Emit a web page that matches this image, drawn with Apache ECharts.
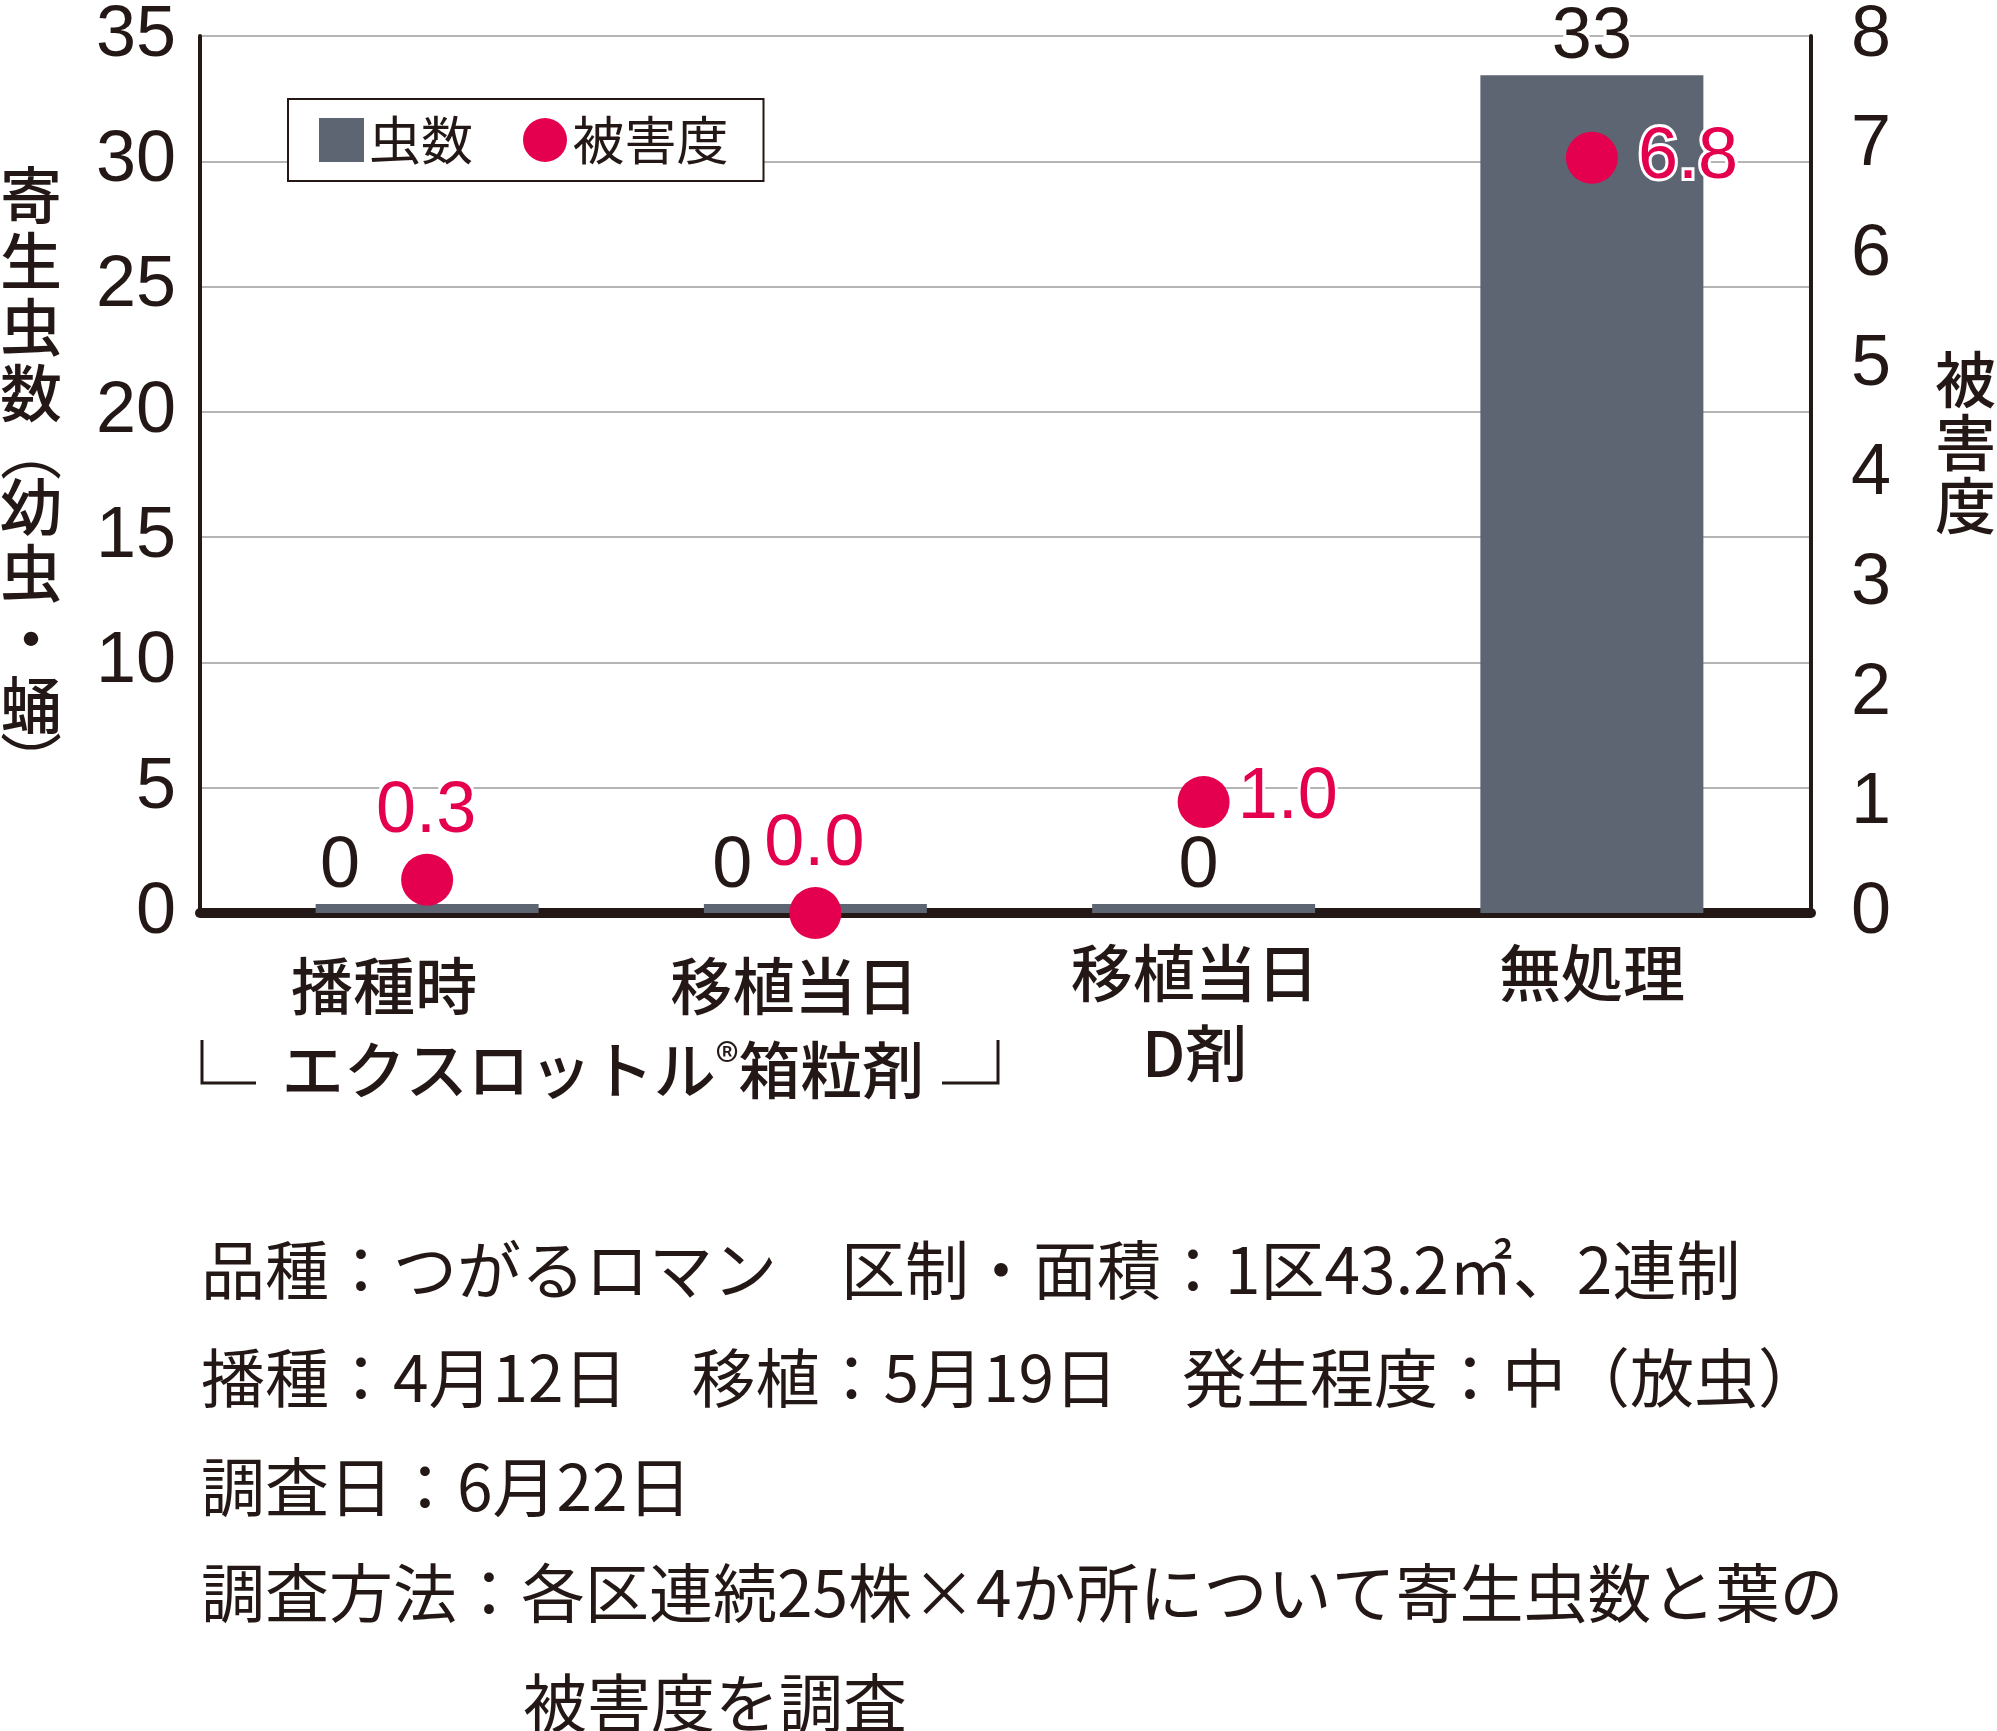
<!DOCTYPE html>
<html>
<head>
<meta charset="utf-8">
<script src="https://cdn.jsdelivr.net/npm/echarts@6/dist/echarts.min.js"></script>
<style>
html,body{margin:0;padding:0;background:#fff;}
#chart{width:1997px;height:1731px;}
</style>
</head>
<body>
<div id="chart"></div>
<script>
// ---- data ----
const categories = ['播種時', '移植当日', '移植当日\nD剤', '無処理'];
const insectCounts = [0, 0, 0, 33];        // 虫数 (left axis)
const damageDegree = [0.3, 0.0, 1.0, 6.8];  // 被害度 (right axis)
const leftTicks = { min: 0, max: 35, interval: 5 };
const rightTicks = { min: 0, max: 8, interval: 1 };
const legendNames = ['虫数', '被害度'];
const leftAxisName = ['寄', '生', '虫', '数', '︵', '幼', '虫', '・', '蛹', '︶'];
const rightAxisName = ['被', '害', '度'];
const bracketText = 'エクスロットル';
const bracketText2 = '箱粒剤';
const notes = [
  '品種：つがるロマン　区制・面積：1区43.2㎡、2連制',
  '播種：4月12日　移植：5月19日　発生程度：中（放虫）',
  '調査日：6月22日',
  '調査方法：各区連続25株×4か所について寄生虫数と葉の',
  '被害度を調査'
];

// ---- style ----
const INK = '#231815';
const BAR = '#5d6472';
const RED = '#e4004f';
const GRID = '#b5b5b5';
const NUM_FONT = "'Liberation Sans', Arial, sans-serif";
const JP_FONT = "'Noto Sans CJK JP', sans-serif";

const barLabelStyle = [
  { offset: [-87, 0] },
  { offset: [-83, 0] },
  { offset: [-5, 0] },
  { offset: [0, 0] }
];
const dotLabelStyle = [
  { position: 'top', distance: 6, offset: [-1, 0] },
  { position: 'top', distance: 6, offset: [-1, 0] },
  { position: 'right', distance: 8, offset: [0, -4] },
  { position: 'right', distance: 20, offset: [0, 0] }
];
const catLabelStyle = [
  { padding: [13, 86, 0, 0] },
  { padding: [13, 42, 0, 0] },
  { padding: [0, 18, 0, 0] },
  { padding: [0, 0, 0, 0] }
];

const chart = echarts.init(document.getElementById('chart'), null, { renderer: 'canvas' });

const noteY = [1270, 1378, 1487, 1593, 1703];
const noteX = [201, 201, 201, 201, 523];

const graphics = [];
// left axis name (vertical)
let richLeft = leftAxisName.map(c => (c === '︵' || c === '︶') ? '{p|' + c + '}' : '{c|' + c + '}').join('\n');
graphics.push({
  type: 'text', left: 0, top: 164,
  style: {
    text: richLeft,
    fill: INK,
    font: "62px 'Noto Sans CJK JP'",
    rich: {
      c: { fontSize: 62, lineHeight: 66, fontFamily: 'Noto Sans CJK JP', fontWeight: 500, fill: INK, align: 'center', width: 62 },
      p: { fontSize: 62, lineHeight: 48, fontFamily: 'Noto Sans CJK JP', fill: INK, align: 'center', width: 62 }
    }
  }
});
graphics.push({
  type: 'text', left: 1935, top: 348,
  style: {
    text: rightAxisName.join('\n'),
    fill: INK,
    font: "500 61px 'Noto Sans CJK JP'",
    lineHeight: 63
  }
});
// bracket under first two categories
graphics.push({
  type: 'polyline', shape: { points: [[202, 1040], [202, 1083], [256, 1083]] },
  style: { stroke: INK, lineWidth: 3, fill: null }
});
graphics.push({
  type: 'polyline', shape: { points: [[942, 1083], [998, 1083], [998, 1040]] },
  style: { stroke: INK, lineWidth: 3, fill: null }
});
graphics.push({
  type: 'text', x: 603, y: 1070,
  style: {
    text: '{a|' + bracketText + '}{r|®}{a|' + bracketText2 + '}',
    align: 'center', verticalAlign: 'middle',
    rich: {
      a: { fontSize: 62, fontFamily: 'Noto Sans CJK JP', fontWeight: 500, fill: INK },
      r: { fontSize: 48, fontFamily: 'Noto Sans CJK JP', fill: INK, verticalAlign: 'top', padding: [0, 0, 18, 0] }
    }
  }
});
notes.forEach((t, i) => {
  graphics.push({
    type: 'text', x: noteX[i], y: noteY[i],
    style: {
      text: t, fill: INK, font: "64px 'Noto Sans CJK JP'",
      align: 'left', verticalAlign: 'middle'
    }
  });
});

const option = {
  backgroundColor: '#fff',
  animation: false,
  legend: {
    data: [
      { name: legendNames[0], icon: 'rect' },
      { name: legendNames[1], icon: 'circle' }
    ],
    left: 288, top: 99,
    orient: 'horizontal',
    itemWidth: 45, itemHeight: 44,
    itemGap: 50,
    padding: [15, 35, 15, 31],
    borderColor: INK, borderWidth: 2,
    backgroundColor: '#fff',
    textStyle: { fontSize: 52, fontFamily: JP_FONT, color: INK }
  },
  grid: [
    { left: 200, right: 186, top: 24.5, bottom: 818 },
    { left: 233, right: 211, top: 24.5, bottom: 818 }
  ],
  xAxis: [
    {
      gridIndex: 0, type: 'category', data: categories,
      axisLine: { show: true, lineStyle: { color: INK, width: 10 } },
      axisTick: { show: false }, axisLabel: { show: false }, splitLine: { show: false }
    },
    {
      gridIndex: 1, type: 'category',
      data: categories.map((c, i) => ({ value: c, textStyle: catLabelStyle[i] })),
      axisLine: { show: false }, axisTick: { show: false },
      axisLabel: { fontSize: 62, fontFamily: JP_FONT, fontWeight: 500, color: INK, margin: 20, lineHeight: 80, interval: 0 }
    }
  ],
  yAxis: [
    {
      gridIndex: 0, type: 'value', position: 'left',
      min: leftTicks.min, max: leftTicks.max, interval: leftTicks.interval,
      axisLine: { show: true, lineStyle: { color: INK, width: 4 } },
      axisTick: { show: false },
      axisLabel: { fontSize: 72, fontFamily: NUM_FONT, color: INK, margin: 24, padding: [15, 0, 0, 0] },
      splitLine: { show: true, lineStyle: { color: GRID, width: 2 } }
    },
    {
      gridIndex: 0, type: 'value', position: 'right',
      min: rightTicks.min, max: rightTicks.max, interval: rightTicks.interval,
      axisLine: { show: true, lineStyle: { color: INK, width: 4 } },
      axisTick: { show: false },
      axisLabel: { fontSize: 72, fontFamily: NUM_FONT, color: INK, margin: 40 },
      splitLine: { show: false }
    },
    { gridIndex: 1, type: 'value', min: leftTicks.min, max: leftTicks.max, interval: leftTicks.interval, show: false },
    { gridIndex: 1, type: 'value', min: rightTicks.min, max: rightTicks.max, interval: rightTicks.interval, show: false }
  ],
  series: [
    {
      name: legendNames[0], type: 'bar', xAxisIndex: 1, yAxisIndex: 2,
      barWidth: 223, barMinHeight: 9, z: 2,
      itemStyle: { color: BAR },
      label: {
        show: true, position: 'top', distance: 1,
        fontSize: 72, fontFamily: NUM_FONT, color: INK,
        textBorderColor: '#fff', textBorderWidth: 6
      },
      data: insectCounts.map((v, i) => ({ value: v, label: barLabelStyle[i] }))
    },
    {
      name: legendNames[1], type: 'scatter', xAxisIndex: 1, yAxisIndex: 3,
      symbol: 'circle', symbolSize: 52, z: 4,
      itemStyle: { color: RED, opacity: 1 },
      label: {
        show: true, fontSize: 72, fontFamily: NUM_FONT, color: RED,
        textBorderColor: '#fff', textBorderWidth: 6,
        formatter: p => Number(p.value).toFixed(1)
      },
      data: damageDegree.map((v, i) => ({ value: v, label: dotLabelStyle[i] }))
    }
  ],
  graphic: graphics
};
chart.setOption(option);
</script>
</body>
</html>
